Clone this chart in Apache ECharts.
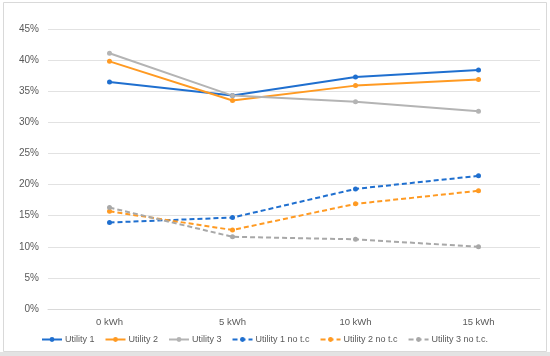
<!DOCTYPE html>
<html>
<head>
<meta charset="utf-8">
<script src="https://cdn.jsdelivr.net/npm/echarts@6/dist/echarts.min.js"></script>
<style>
html,body{margin:0;padding:0;background:#fff;}
#c{width:550px;height:356px;}
</style>
</head>
<body>
<div id="c"></div>
<script>
const categories = ['0 kWh', '5 kWh', '10 kWh', '15 kWh'];
const utility1 = [36.5, 34.3, 37.3, 38.4];
const utility2 = [39.8, 33.5, 35.9, 36.9];
const utility3 = [41.1, 34.3, 33.3, 31.8];
const utility1NoTc = [13.9, 14.7, 19.3, 21.4];
const utility2NoTc = [15.7, 12.7, 16.9, 19.0];
const utility3NoTc = [16.3, 11.6, 11.2, 10.0];
const seriesNames = ['Utility 1', 'Utility 2', 'Utility 3', 'Utility 1 no t.c', 'Utility 2 no t.c', 'Utility 3 no t.c.'];

const BLUE = '#1F6FCF', ORANGE = '#FF9A22', GRAY = '#B4B4B4', GRAY_D = '#A8A8A8';

function mk(name, data, color, dashed) {
  return {
    name, type: 'line', data,
    symbol: 'circle', symbolSize: 5,
    itemStyle: { color },
    lineStyle: { color, width: 2, type: dashed ? [5, 3] : 'solid' },
    emphasis: { disabled: true },
    animation: false
  };
}

const chart = echarts.init(document.getElementById('c'), null, { renderer: 'canvas' });
chart.setOption({
  backgroundColor: '#fff',
  animation: false,
  graphic: [
    { type: 'rect', shape: { x: 0, y: 352, width: 550, height: 4 }, style: { fill: '#e3e3e3' }, silent: true },
    { type: 'rect', shape: { x: 3.5, y: 2.5, width: 543, height: 349 }, style: { fill: 'none', stroke: '#d9d9d9', lineWidth: 1 }, silent: true }
  ],
  grid: { left: 48, right: 10, top: 29, bottom: 47 },
  xAxis: {
    type: 'category', data: categories, boundaryGap: true,
    axisLine: { lineStyle: { color: '#d9d9d9' } },
    axisTick: { show: false },
    axisLabel: { color: '#595959', fontSize: 9.5, fontFamily: 'Liberation Sans, Arial', margin: 8 }
  },
  yAxis: {
    type: 'value', min: 0, max: 45, interval: 5,
    axisLine: { show: false }, axisTick: { show: false },
    axisLabel: { formatter: '{value}%', color: '#595959', fontSize: 10, fontFamily: 'Liberation Sans, Arial', margin: 9 },
    splitLine: { lineStyle: { color: '#e2e2e2', width: 1 } }
  },
  legend: {
    top: 335, left: 41, itemGap: 10, itemWidth: 20, itemHeight: 6,
    padding: 0,
    textStyle: { color: '#595959', fontSize: 9, fontFamily: 'Liberation Sans, Arial', padding: [0, 0, 0, -2] },
    data: seriesNames
  },
  series: [
    mk(seriesNames[0], utility1, BLUE, false),
    mk(seriesNames[1], utility2, ORANGE, false),
    mk(seriesNames[2], utility3, GRAY, false),
    mk(seriesNames[3], utility1NoTc, BLUE, true),
    mk(seriesNames[4], utility2NoTc, ORANGE, true),
    mk(seriesNames[5], utility3NoTc, GRAY_D, true)
  ]
});
</script>
</body>
</html>
